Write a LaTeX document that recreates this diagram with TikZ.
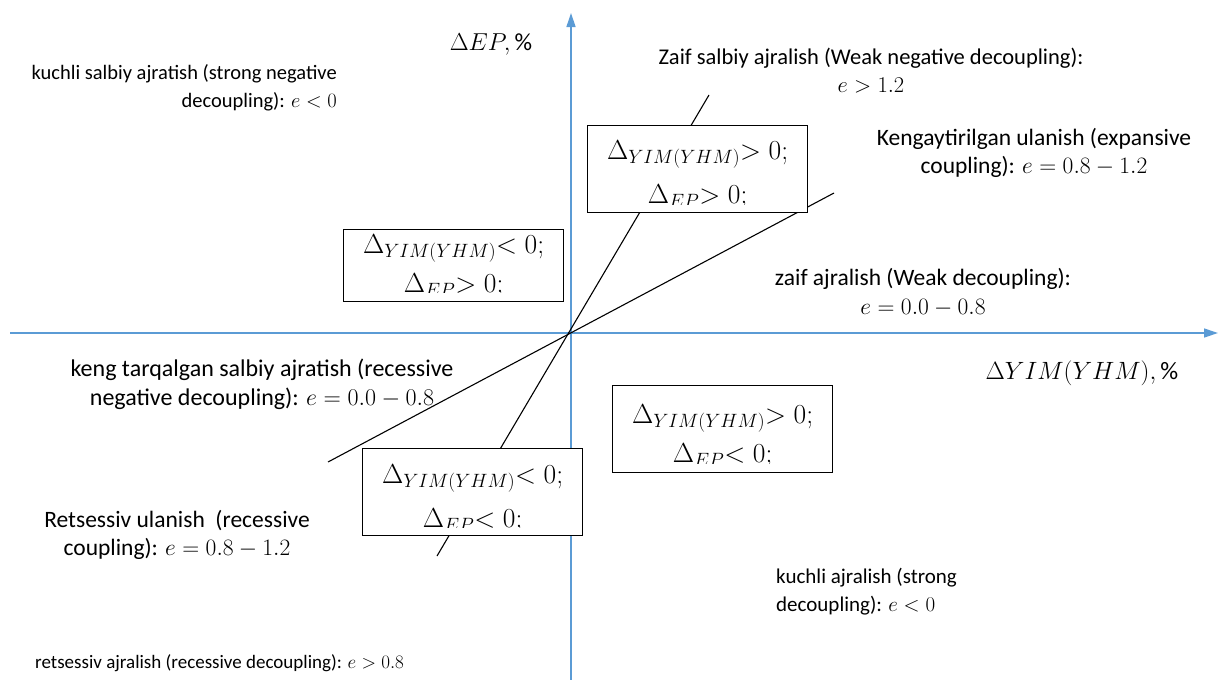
\RequirePackage{fix-cm}
\documentclass[tikz,border=0pt]{standalone}
\usepackage{fontspec}
\setmainfont{Carlito}
\usetikzlibrary{arrows.meta}
\definecolor{axisblue}{HTML}{5B9BD5}
\begin{document}
\begin{tikzpicture}[x=1pt,y=-1pt,
  axisline/.style={draw=axisblue, line width=1.3pt, -{Triangle[length=14pt,width=9pt]}},
  sepline/.style={draw=black, line width=1.1pt},
  qbox/.style={draw=black, line width=1.2pt, fill=white, inner sep=0pt, anchor=north west, minimum width=220pt, minimum height=87pt},
  lbl/.style={inner sep=0pt},
  btxt/.style={font=\fontsize{27.5}{30}\selectfont, inner sep=0pt, anchor=base},
]
\useasboundingbox (0,0) rectangle (1219,680);
% axes
\coordinate (ybot) at (571,680);
\coordinate (ytop) at (571,13);
\coordinate (xl) at (10,333);
\coordinate (xr) at (1218,333);
\draw[axisline] (ybot) -- (ytop);
\draw[axisline] (xl) -- (xr);
% separating lines
\coordinate (a1) at (709,95);
\coordinate (a2) at (437,556);
\coordinate (b1) at (834,193);
\coordinate (b2) at (328,462);
\draw[sepline] (a1) -- (a2);
\draw[sepline] (b1) -- (b2);
% boxes
\node[qbox] (q1) at (587,125) {};
\begin{scope}
\clip (q1.north west) rectangle ([yshift=9pt]q1.south east);
\node[btxt] (q1a) at ([yshift=-34pt]q1.north) {$\Delta_{YIM(YHM)}{>}\;0;$};
\node[btxt] (q1b) at ([yshift=10pt]q1.south) {$\Delta_{EP}{>}\;0;$};
\end{scope}
\node[qbox, minimum height=72pt] (q2) at (343,229) {};
\begin{scope}
\clip (q2.north west) rectangle ([yshift=10pt]q2.south east);
\node[btxt] (q2a) at ([yshift=-24pt]q2.north) {$\Delta_{YIM(YHM)}{<}\;0;$};
\node[btxt] (q2b) at ([yshift=10pt]q2.south) {$\Delta_{EP}{>}\;0;$};
\end{scope}
\node[qbox] (q3) at (612,385) {};
\begin{scope}
\clip (q3.north west) rectangle ([yshift=10pt]q3.south east);
\node[btxt] (q3a) at ([yshift=-38pt]q3.north) {$\Delta_{YIM(YHM)}{>}\;0;$};
\node[btxt] (q3b) at ([yshift=11pt]q3.south) {$\Delta_{EP}{<}\;0;$};
\end{scope}
\node[qbox] (q4) at (362,448) {};
\begin{scope}
\clip (q4.north west) rectangle ([yshift=9pt]q4.south east);
\node[btxt] (q4a) at ([yshift=-35pt]q4.north) {$\Delta_{YIM(YHM)}{<}\;0;$};
\node[btxt] (q4b) at ([yshift=9pt]q4.south) {$\Delta_{EP}{<}\;0;$};
\end{scope}
% axis labels
\node[font=\fontsize{24.5}{28}\selectfont, inner sep=0pt, anchor=base] (ylab) at (491,50) {$\Delta EP,\%$};
\node[font=\fontsize{25}{30}\selectfont, inner sep=0pt, anchor=base] (xlab) at (1082,379) {$\Delta YIM(YHM),\%$};
% region labels (anchor = baseline of the last line)
\node[lbl, font=\fontsize{20.5}{28}\selectfont, align=right, anchor=base east] (l1) at (337,107) {kuchli salbiy ajratish (strong negative\\decoupling): $e<0$};
\node[lbl, font=\fontsize{22.5}{28}\selectfont, align=center, anchor=base] (l2) at (871,92) {Zaif salbiy ajralish (Weak negative decoupling):\\$e>1.2$};
\node[lbl, font=\fontsize{23.5}{28}\selectfont, align=center, anchor=base] (l3) at (1034,173) {Kengaytirilgan ulanish (expansive\\coupling): $e=0.8-1.2$};
\node[lbl, font=\fontsize{23.5}{29}\selectfont, align=center, anchor=base] (l4) at (923,314) {zaif ajralish (Weak decoupling):\\$e=0.0-0.8$};
\node[lbl, font=\fontsize{24}{29}\selectfont, align=center, anchor=base] (l7) at (262,405) {keng tarqalgan salbiy ajratish (recessive\\negative decoupling): $e=0.0-0.8$};
\node[lbl, font=\fontsize{23.5}{28}\selectfont, align=center, anchor=base] (l8) at (177,555) {Retsessiv ulanish~ (recessive\\coupling): $e=0.8-1.2$};
\node[lbl, font=\fontsize{21}{28}\selectfont, align=left, anchor=base west] (l9) at (776,611) {kuchli ajralish (strong\\decoupling): $e<0$};
\node[lbl, font=\fontsize{19}{28}\selectfont, anchor=base west] (l10) at (35,668) {retsessiv ajralish (recessive decoupling): $e>0.8$};
\end{tikzpicture}
\end{document}
